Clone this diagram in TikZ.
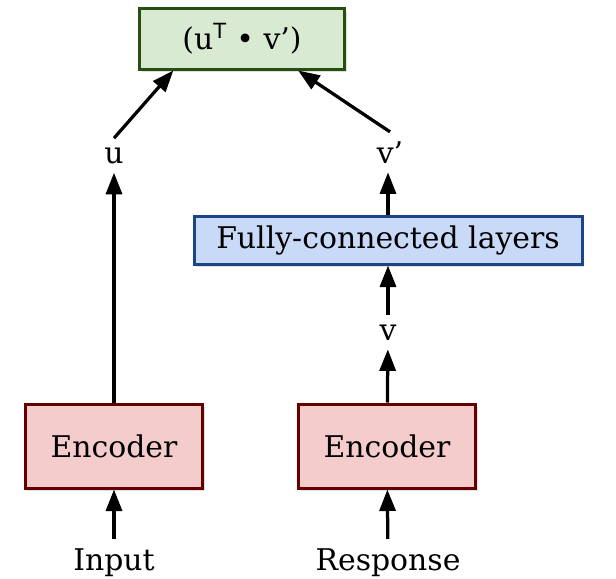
\documentclass[tikz,border=0pt]{standalone}
\usepackage{fontspec}
\setmainfont{DejaVu Serif}
\setsansfont{DejaVu Sans}
\usepackage{xcolor}
\usetikzlibrary{arrows.meta,calc,shadows}

\definecolor{dotfill}{HTML}{D9EAD3}
\definecolor{dotdraw}{HTML}{274E13}
\definecolor{fcfill}{HTML}{C9DAF8}
\definecolor{fcdraw}{HTML}{1C4587}
\definecolor{encfill}{HTML}{F4CCCC}
\definecolor{encdraw}{HTML}{660000}

\begin{document}
\begin{tikzpicture}[
  x=0.2mm, y=-0.2mm,
  font=\fontsize{17}{20}\selectfont,
  box/.style={rectangle, line width=0.6mm, align=center, inner sep=2pt,
              drop shadow={opacity=0.25, shadow xshift=0.4mm, shadow yshift=-0.6mm}},
  dotbox/.style={box, draw=dotdraw, fill=dotfill,
                 minimum width=41mm, minimum height=12mm},
  fcbox/.style={box, draw=fcdraw, fill=fcfill,
                minimum width=77.6mm, minimum height=9.6mm},
  encbox/.style={box, draw=encdraw, fill=encfill,
                 minimum width=35.4mm, minimum height=16.8mm},
  lbl/.style={anchor=base, inner sep=1.8mm},
  arrow/.style={-{Triangle[length=4.3mm, width=3.2mm]}, line width=0.65mm},
]
  \useasboundingbox (0,0) rectangle (616,578);

  \node[dotbox] (dot) at (242,39) {(u\textsuperscript{\sffamily T} • v’)};
  \node[fcbox] (fc) at (388,240) {Fully-connected layers};
  \node[encbox] (encin) at (114,446) {Encoder};
  \node[encbox] (encresp) at (387,446) {Encoder};

  \node[lbl] (u) at (114,163) {u};
  \node[lbl] (vp) at (390,163) {v’};
  \node[lbl] (v) at (388,340) {v};
  \node[lbl] (inp) at (114,570) {Input};
  \node[lbl] (resp) at (388,570) {Response};

  \draw[arrow] (inp) -- (encin);
  \draw[arrow] (resp) -- (encresp);
  \draw[arrow] (encin) -- (u);
  \draw[arrow] (encresp) -- (v);
  \draw[arrow] (v) -- (fc);
  \draw[arrow] (fc) -- (vp.south -| fc.north);
  \draw[arrow] (u.north) -- ($(dot.south west)!.17!(dot.south east)$);
  \draw[arrow] (vp.north) -- ($(dot.south west)!.77!(dot.south east)$);

\end{tikzpicture}
\end{document}
